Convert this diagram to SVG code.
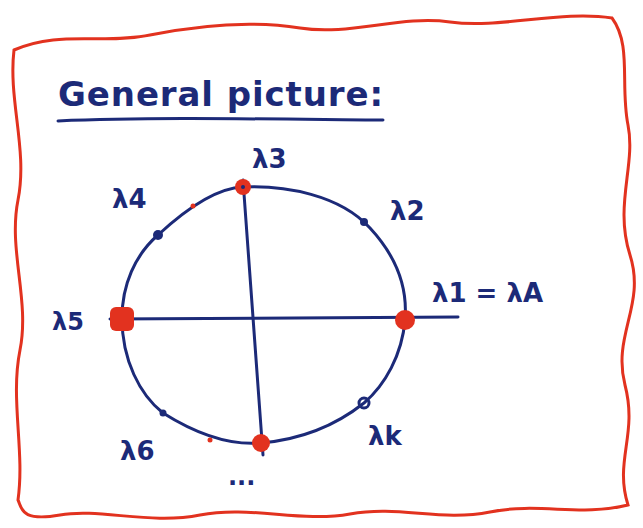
<svg xmlns="http://www.w3.org/2000/svg" width="643" height="528" viewBox="0 0 643 528">
<style>
.ink{fill:none;stroke:#1c2a78;stroke-width:3;stroke-linecap:round;stroke-linejoin:round}
.lbl{font-family:"DejaVu Sans","Liberation Sans",sans-serif;fill:#1c2a78;font-weight:bold}
.red{fill:#e2321f}
.dot{fill:#1c2a78}
</style>
<rect width="643" height="528" fill="#fff"/>
<path d="M 14 50 C 60 30, 100 45, 150 35 S 250 20, 300 28 S 400 15, 450 22 S 560 10, 612 18 C 632 45, 620 85, 628 125 S 614 205, 630 255 S 612 335, 625 385 S 614 460, 628 505 C 580 517, 540 502, 490 512 S 400 505, 350 514 S 250 505, 200 515 S 100 508, 60 515 S 22 508, 18 500 C 25 450, 10 400, 20 350 S 8 250, 18 200 S 8 100, 14 50 Z" fill="none" stroke="#e2321f" stroke-width="3"/>
<g id="title">
<text class="lbl" x="58" y="106" font-size="34" font-weight="normal" textLength="325">General picture:</text>
<path class="ink" d="M 58 121 C 150 117, 260 119, 383 120" stroke-width="3.5"/>
</g>
<g id="connectors">
<path class="ink" d="M 243 187 C 285 185, 340 195, 370 228 C 395 255, 408 285, 405 320 C 402 355, 385 385, 364 403 C 330 430, 295 440, 261 443 C 225 446, 190 430, 163 413 C 140 395, 122 360, 122 318 C 122 285, 135 255, 158 235 C 185 210, 215 188, 243 187 Z"/>
<path class="ink" d="M 110 319 L 458 317"/>
<path class="ink" d="M 243 180 L 263 455"/>
</g>
<g id="n-lambda3"><circle class="red" cx="243" cy="187" r="8"/><circle class="dot" cx="243" cy="187" r="2"/><text class="lbl" x="252" y="168" font-size="26">λ3</text></g>
<g id="n-lambda2"><circle class="dot" cx="364" cy="222" r="4"/><text class="lbl" x="390" y="220" font-size="26">λ2</text></g>
<g id="n-lambda1"><circle class="red" cx="405" cy="320" r="10"/><text class="lbl" x="432" y="302" font-size="26">λ1 = λA</text></g>
<g id="n-lambdak"><circle cx="364" cy="403" r="5" fill="none" stroke="#1c2a78" stroke-width="3"/><text class="lbl" x="368" y="445" font-size="26">λk</text></g>
<g id="n-dots"><circle class="red" cx="261" cy="443" r="9"/><text class="lbl" x="228" y="485" font-size="24">...</text></g>
<g id="n-lambda6"><circle class="dot" cx="163" cy="413" r="3.5"/><text class="lbl" x="120" y="460" font-size="26">λ6</text></g>
<g id="n-lambda5"><rect class="red" x="110" y="307" width="24" height="24" rx="6"/><text class="lbl" x="52" y="330" font-size="24">λ5</text></g>
<g id="n-lambda4"><circle cx="158" cy="235" r="5" fill="#1c2a78"/><text class="lbl" x="112" y="208" font-size="26">λ4</text></g>
<circle class="red" cx="193" cy="206" r="2.5"/>
<circle class="red" cx="210" cy="440" r="2.5"/>
</svg>
